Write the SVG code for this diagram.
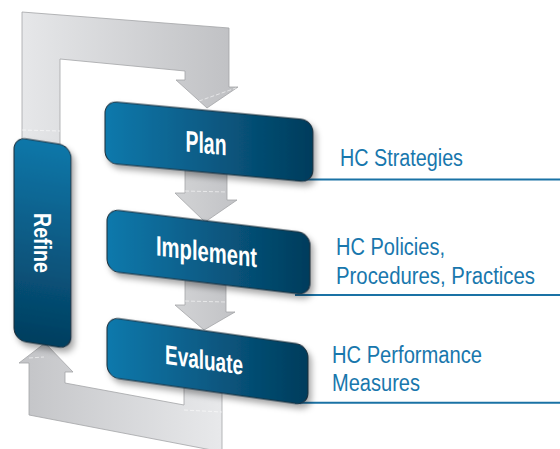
<svg xmlns="http://www.w3.org/2000/svg" width="560" height="449" viewBox="0 0 560 449">
<defs>
<linearGradient id="gTop" x1="0" y1="0" x2="1" y2="0"><stop offset="0" stop-color="#e6e7e9"/><stop offset="1" stop-color="#bfc0c3"/></linearGradient>
<linearGradient id="gBot" x1="0" y1="0" x2="1" y2="0"><stop offset="0" stop-color="#c3c4c7"/><stop offset="1" stop-color="#e8e9eb"/></linearGradient>
<linearGradient id="gDown" x1="0" y1="0" x2="1" y2="0"><stop offset="0" stop-color="#d2d3d5"/><stop offset="1" stop-color="#c2c3c6"/></linearGradient>
<linearGradient id="gBlue" x1="0" y1="0" x2="1" y2="0"><stop offset="0" stop-color="#1079ac"/><stop offset="1" stop-color="#023c5c"/></linearGradient>
<linearGradient id="gBlueV" x1="0" y1="0" x2="0" y2="1"><stop offset="0" stop-color="#1077a9"/><stop offset="1" stop-color="#033e5f"/></linearGradient>
<filter id="sh" x="-15%" y="-15%" width="135%" height="145%"><feDropShadow dx="3" dy="4" stdDeviation="3" flood-color="#000" flood-opacity="0.35"/></filter>
</defs>
<style>
.arrow{stroke:#a3a4a7;stroke-width:0.8;stroke-linejoin:miter}
.sep{stroke:#ffffff;stroke-opacity:0.7;stroke-width:0.8;stroke-dasharray:4 2;fill:none}
.box{fill:url(#gBlue);stroke:#1c2c37;stroke-width:1}
.title{font-family:"Liberation Sans Narrow","Liberation Sans",Arial,sans-serif;font-weight:bold;fill:#ffffff;text-anchor:middle}
.lbl{font-family:"Liberation Sans Narrow","Liberation Sans",Arial,sans-serif;font-size:23.5px;fill:#1877ad}
.rule{stroke:#1a72a5;stroke-width:2}
</style>
<g id="rules">
<line class="rule" x1="295" y1="179.5" x2="560" y2="179.5"/>
<line class="rule" x1="295" y1="295" x2="560" y2="295"/>
<line class="rule" x1="295" y1="402.7" x2="560" y2="402.7"/>
</g>
<g id="connectors">
<polygon class="arrow" fill="url(#gTop)" points="22,150 22,12 229,28 229,87 238,87 207,108 176,80 185,80 185,71 60,59 60,150"/>
<line class="sep" x1="22" y1="130" x2="60" y2="131"/>
<line class="sep" x1="199" y1="101" x2="236" y2="88"/>
<polygon class="arrow" fill="url(#gDown)" points="185,165 185,193 175,193 205,222 237,200 227,200 227,165"/>
<line class="sep" x1="185" y1="191" x2="227" y2="192"/>
<polygon class="arrow" fill="url(#gDown)" points="185,280 185,305 175,305 204,330 235,312 226,312 226,280"/>
<line class="sep" x1="185" y1="301" x2="226" y2="302"/>
<polygon class="arrow" fill="url(#gBot)" points="45,343 73,372 65,372 65,383 184,405 184,370 222,370 222,452 29,415 29,363 19,363"/>
<line class="sep" x1="29" y1="358" x2="44" y2="357"/>
<line class="sep" x1="184" y1="410" x2="222" y2="412"/>
</g>
<g id="refine">
<g transform="translate(14,137) skewY(9)" filter="url(#sh)">
<rect x="0" y="0" width="57" height="203" rx="12" fill="url(#gBlueV)" stroke="#1c2c37" stroke-width="1"/>
</g>
<text class="title" transform="translate(34,243) rotate(90)" x="0" y="0" font-size="24" textLength="60" lengthAdjust="spacingAndGlyphs">Refine</text>
</g>
<g id="plan" transform="translate(105,101) skewY(5.3)">
<rect class="box" x="0" y="0" width="208" height="62" rx="12" filter="url(#sh)"/>
<text class="title" x="101" y="43" font-size="30" textLength="41" lengthAdjust="spacingAndGlyphs">Plan</text>
</g>
<g id="implement" transform="translate(107,209) skewY(6.8)">
<rect class="box" x="0" y="0" width="203" height="62" rx="12" filter="url(#sh)"/>
<text class="title" x="99.5" y="40.5" font-size="28" textLength="101" lengthAdjust="spacingAndGlyphs">Implement</text>
</g>
<g id="evaluate" transform="translate(107,317) skewY(8)">
<rect class="box" x="0" y="0" width="201" height="60" rx="12" filter="url(#sh)"/>
<text class="title" x="97" y="38.5" font-size="27" textLength="78" lengthAdjust="spacingAndGlyphs">Evaluate</text>
</g>
<g id="labels">
<text class="lbl" x="340" y="166" textLength="123" lengthAdjust="spacingAndGlyphs">HC Strategies</text>
<text class="lbl" x="336" y="255" textLength="109" lengthAdjust="spacingAndGlyphs">HC Policies,</text>
<text class="lbl" x="336" y="284" textLength="199" lengthAdjust="spacingAndGlyphs">Procedures, Practices</text>
<text class="lbl" x="332" y="363" textLength="150" lengthAdjust="spacingAndGlyphs">HC Performance</text>
<text class="lbl" x="332" y="391" textLength="88" lengthAdjust="spacingAndGlyphs">Measures</text>
</g>
</svg>
